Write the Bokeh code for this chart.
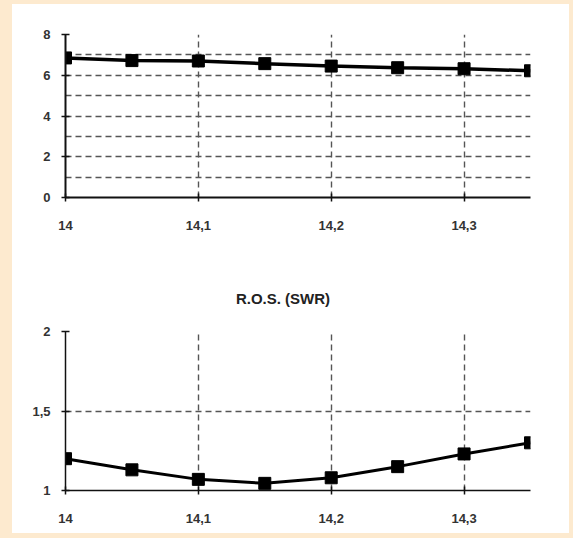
import re
from bokeh.plotting import figure
from bokeh.layouts import column
from bokeh.models import Range1d, FixedTicker, Div, ColumnDataSource
from bokeh.embed import file_html
from bokeh.resources import INLINE

# ---- data ----
freq = [14.0, 14.05, 14.1, 14.15, 14.2, 14.25, 14.3, 14.35]
gain_vals = [6.85, 6.72, 6.70, 6.57, 6.45, 6.37, 6.32, 6.22]
swr_vals = [1.20, 1.13, 1.07, 1.045, 1.08, 1.15, 1.23, 1.30]

x_ticks = [14.0, 14.1, 14.2, 14.3]
x_tick_labels = ["14", "14,1", "14,2", "14,3"]
x_grid = [14.1, 14.2, 14.3]

top_y_ticks = [0, 2, 4, 6, 8]
top_y_grid = [1, 2, 3, 4, 5, 6, 7, 8]
bot_y_ticks = [1, 1.5, 2]
bot_y_labels = ["1", "1,5", "2"]
bot_y_grid = [1.5, 2]
swr_title = "R.O.S. (SWR)"

BG = "#fdeacf"
FONT = "Liberation Sans"
GRID = "#555555"


def style(p, yticks, ylabels, ygrid):
    p.xaxis.ticker = FixedTicker(ticks=x_ticks)
    p.xaxis.major_label_overrides = {t: l for t, l in zip(x_ticks, x_tick_labels)}
    p.yaxis.ticker = FixedTicker(ticks=yticks)
    if ylabels:
        p.yaxis.major_label_overrides = {t: l for t, l in zip(yticks, ylabels)}
    p.xgrid.ticker = FixedTicker(ticks=x_grid)
    p.ygrid.ticker = FixedTicker(ticks=ygrid)
    for g in (p.xgrid, p.ygrid):
        g.grid_line_color = GRID
        g.grid_line_dash = "6 4"
        g.grid_line_width = 1.4
    for ax in (p.xaxis, p.yaxis):
        ax.axis_line_color = "#111111"
        ax.axis_line_width = 2
        ax.major_tick_line_color = "#111111"
        ax.major_tick_line_width = 1.5
        ax.major_tick_in = 4
        ax.major_tick_out = 4
        ax.minor_tick_line_color = None
        ax.major_label_text_font = FONT
        ax.major_label_text_font_style = "bold"
        ax.major_label_text_font_size = "13px"
        ax.major_label_text_color = "#333333"
    p.xaxis.major_label_standoff = 19
    p.yaxis.major_label_standoff = 11
    p.outline_line_color = None
    p.background_fill_color = "white"
    p.border_fill_color = "white"


# ---- top chart ----
src1 = ColumnDataSource(dict(x=freq, y=gain_vals))
p1 = figure(width=557, height=244, output_backend="svg", toolbar_location=None,
            x_range=Range1d(14.0, 14.35), y_range=Range1d(0, 8),
            min_border_left=50, min_border_right=39, min_border_top=30, min_border_bottom=51)
style(p1, top_y_ticks, None, top_y_grid)
p1.line("x", "y", source=src1, line_color="black", line_width=3.5)
p1.scatter("x", "y", source=src1, marker="square", size=12, fill_color="black", line_color="black")

# ---- title of the bottom chart ----
title_div = Div(
    text='<div style="width:542px;padding-top:42px;line-height:18px;text-align:center;'
         'font-family:\'%s\';font-weight:bold;font-size:15px;color:#222222;">%s</div>'
         % (FONT, swr_title),
    width=557, height=70, margin=0, styles={"background-color": "white"})

# ---- bottom chart ----
src2 = ColumnDataSource(dict(x=freq, y=swr_vals))
p2 = figure(width=557, height=215, output_backend="svg", toolbar_location=None,
            x_range=Range1d(14.0, 14.35), y_range=Range1d(1, 2),
            min_border_left=53, min_border_right=33, min_border_top=13, min_border_bottom=43)
style(p2, bot_y_ticks, bot_y_labels, bot_y_grid)
p2.yaxis.axis_line_width = 1.5
p2.xaxis.axis_line_width = 1.5
p2.line("x", "y", source=src2, line_color="black", line_width=3)
p2.scatter("x", "y", source=src2, marker="square", size=12, fill_color="black", line_color="black")

layout = column(p1, title_div, p2, spacing=0, styles={"background-color": "white"})

html = file_html(layout, INLINE)
css = ("<style>html,body{margin:0;background:%s;overflow:hidden;}"
       "body{padding:4px 0 0 12px;}</style>" % BG)
html = re.sub(r"</head>", css + "</head>", html, count=1)
open("out.html", "w").write(html)
